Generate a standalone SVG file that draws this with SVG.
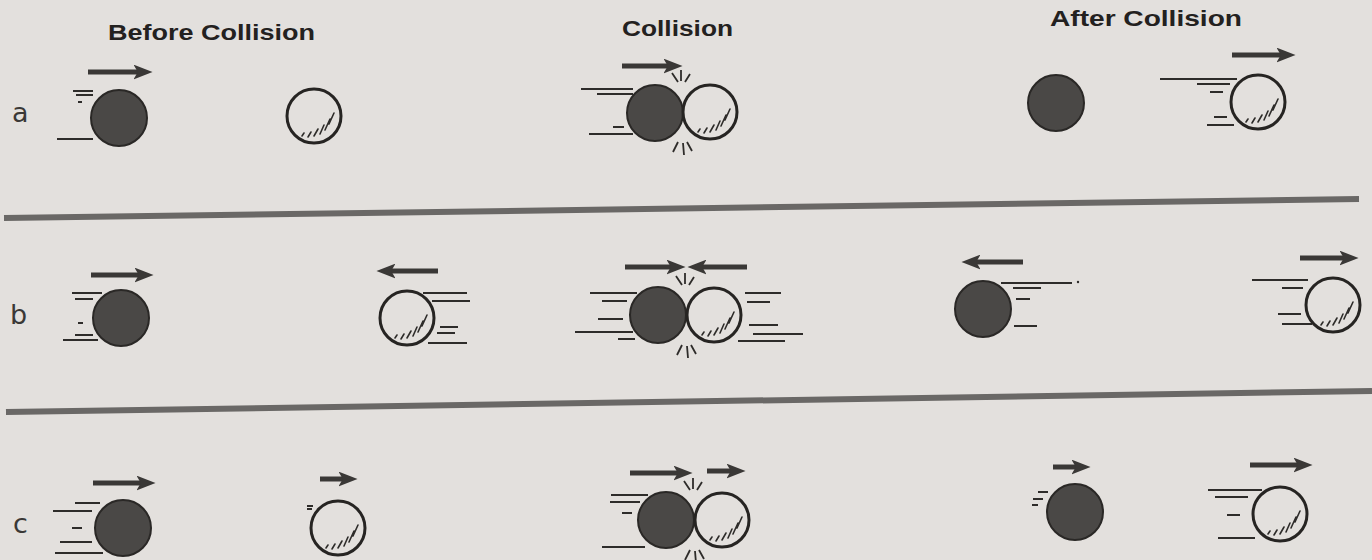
<svg xmlns="http://www.w3.org/2000/svg" width="1372" height="560" viewBox="0 0 1372 560">
<defs>
<style>
.title{font-family:"Liberation Sans",Arial,sans-serif;font-weight:bold;font-size:22px;fill:#232120}
.lbl{font-family:"DejaVu Sans","Liberation Sans",sans-serif;font-size:27px;fill:#3a3836}
.solid{fill:#4a4846;stroke:#2a2826;stroke-width:2}
.hollow{fill:none;stroke:#262422;stroke-width:3}
.speed{stroke:#2e2c2a;stroke-width:2;fill:none}
.hatch{stroke:#2e2c2a;stroke-width:1.6;fill:none;stroke-linecap:round}
.arrow{stroke:#3a3836;stroke-width:5;fill:none;marker-end:url(#ah)}
.sep{stroke:#6a6866;stroke-width:6}
.spark{stroke:#2e2c2a;stroke-width:1.8;fill:none}
</style>
<marker id="ah" markerUnits="userSpaceOnUse" viewBox="0 0 18 14" markerWidth="19" markerHeight="15" refX="8" refY="7" orient="auto">
<path d="M0,0 L18,7 L0,14 L4,7 z" fill="#3a3836"/>
</marker>
<g id="hatchmarks" class="hatch">
<path d="M-12,20 l2,-3 M-6,21 l3,-5 M0,20 l4,-7 M6,18 l4,-9 M11,14 l5,-11 M15,8 l5,-11"/>
</g>
<g id="sparks" class="spark">
<path d="M-10,-39 L-4,-30 M-1,-42 L-1,-31 M8,-38 L3,-30"/>
<path d="M-4,30 L-9,40 M1,31 L2,43 M5,30 L10,39"/>
</g>
</defs>
<rect width="1372" height="560" fill="#e3e0dd"/>

<g id="titles">
<text class="title" x="108" y="40" textLength="207" lengthAdjust="spacingAndGlyphs">Before Collision</text>
<text class="title" x="622" y="36" textLength="111" lengthAdjust="spacingAndGlyphs">Collision</text>
<text class="title" x="1050" y="26" textLength="192" lengthAdjust="spacingAndGlyphs">After Collision</text>
</g>

<g id="row-labels">
<text class="lbl" x="12" y="122">a</text>
<text class="lbl" x="10" y="324">b</text>
<text class="lbl" x="13" y="533">c</text>
</g>

<g id="separators">
<line class="sep" x1="4" y1="218" x2="1359" y2="199"/>
<line class="sep" x1="6" y1="412" x2="1372" y2="391"/>
</g>

<!-- Row a -->
<g id="a-before-1">
<path class="speed" d="M73,91 H93 M76,95 H93 M78,102 H82 M57,139 H93"/>
<circle class="solid" cx="119" cy="118" r="28"/>
</g>
<g id="a-before-2">
<circle class="hollow" cx="314" cy="116" r="27"/>
<use href="#hatchmarks" x="314" y="116"/>
</g>
<g id="a-collision">
<path class="speed" d="M581,89 H633 M597,94 H633 M613,127 H624 M589,134 H633"/>
<circle class="solid" cx="655" cy="113" r="28"/>
<circle class="hollow" cx="710" cy="112" r="27"/>
<use href="#hatchmarks" x="710" y="112"/>
<use href="#sparks" x="682" y="112"/>
</g>
<g id="a-after-1">
<circle class="solid" cx="1056" cy="103" r="28"/>
</g>
<g id="a-after-2">
<path class="speed" d="M1160,79 H1237 M1197,84 H1230 M1210,92 H1223 M1214,117 H1227 M1207,125 H1234"/>
<circle class="hollow" cx="1258" cy="102" r="27"/>
<use href="#hatchmarks" x="1258" y="102"/>
</g>

<!-- Row b -->
<g id="b-before-1">
<path class="speed" d="M72,293 H102 M75,299 H93 M78,323 H83 M75,335 H93 M63,340 H98"/>
<circle class="solid" cx="121" cy="318" r="28"/>
</g>
<g id="b-before-2">
<path class="speed" d="M423,293 H467 M432,301 H470 M440,327 H458 M437,333 H455 M428,343 H467"/>
<circle class="hollow" cx="407" cy="318" r="27"/>
<use href="#hatchmarks" x="407" y="318"/>
</g>
<g id="b-collision">
<path class="speed" d="M590,293 H637 M602,301 H627 M598,319 H623 M575,332 H633 M618,339 H635"/>
<path class="speed" d="M745,293 H781 M747,302 H770 M749,325 H778 M753,334 H803 M738,341 H785"/>
<circle class="solid" cx="658" cy="315" r="28"/>
<circle class="hollow" cx="714" cy="315" r="27"/>
<use href="#hatchmarks" x="714" y="315"/>
<use href="#sparks" x="686" y="315"/>
</g>
<g id="b-after-1">
<path class="speed" d="M1001,283 H1072 M1013,288 H1041 M1016,299 H1030 M1014,326 H1037"/>
<circle cx="1078" cy="282" r="1.2" fill="#2e2c2a"/>
<circle class="solid" cx="983" cy="309" r="28"/>
</g>
<g id="b-after-2">
<path class="speed" d="M1252,280 H1308 M1282,288 H1303 M1278,314 H1301 M1282,324 H1312"/>
<circle class="hollow" cx="1333" cy="305" r="27"/>
<use href="#hatchmarks" x="1333" y="305"/>
</g>

<!-- Row c -->
<g id="c-before-1">
<path class="speed" d="M75,503 H100 M53,511 H92 M72,528 H82 M60,542 H92 M55,553 H103"/>
<circle class="solid" cx="123" cy="528" r="28"/>
</g>
<g id="c-before-2">
<path class="speed" d="M307,506 H313 M307,509 H312"/>
<circle class="hollow" cx="338" cy="528" r="27"/>
<use href="#hatchmarks" x="338" y="528"/>
</g>
<g id="c-collision">
<path class="speed" d="M611,495 H648 M610,502 H640 M622,513 H632 M602,547 H645"/>
<circle class="solid" cx="666" cy="520" r="28"/>
<circle class="hollow" cx="722" cy="520" r="27"/>
<use href="#hatchmarks" x="722" y="520"/>
<use href="#sparks" x="694" y="520"/>
</g>
<g id="c-after-1">
<path class="speed" d="M1038,492 H1048 M1033,499 H1043 M1032,505 H1038"/>
<circle class="solid" cx="1075" cy="512" r="28"/>
</g>
<g id="c-after-2">
<path class="speed" d="M1208,490 H1262 M1215,497 H1248 M1227,515 H1240 M1218,538 H1255"/>
<circle class="hollow" cx="1280" cy="514" r="27"/>
<use href="#hatchmarks" x="1280" y="514"/>
</g>

<g id="arrows">
<line class="arrow" x1="88" y1="72" x2="142" y2="72"/>
<line class="arrow" x1="622" y1="66" x2="672" y2="66"/>
<line class="arrow" x1="1232" y1="55" x2="1285" y2="55"/>
<line class="arrow" x1="91" y1="275" x2="143" y2="275"/>
<line class="arrow" x1="438" y1="271" x2="387" y2="271"/>
<line class="arrow" x1="625" y1="267" x2="675" y2="267"/>
<line class="arrow" x1="747" y1="267" x2="698" y2="267"/>
<line class="arrow" x1="1023" y1="262" x2="972" y2="262"/>
<line class="arrow" x1="1300" y1="258" x2="1348" y2="258"/>
<line class="arrow" x1="93" y1="483" x2="145" y2="483"/>
<line class="arrow" x1="320" y1="479" x2="347" y2="479"/>
<line class="arrow" x1="630" y1="473" x2="682" y2="473"/>
<line class="arrow" x1="707" y1="471" x2="735" y2="471"/>
<line class="arrow" x1="1053" y1="467" x2="1080" y2="467"/>
<line class="arrow" x1="1250" y1="465" x2="1302" y2="465"/>
</g>
</svg>
